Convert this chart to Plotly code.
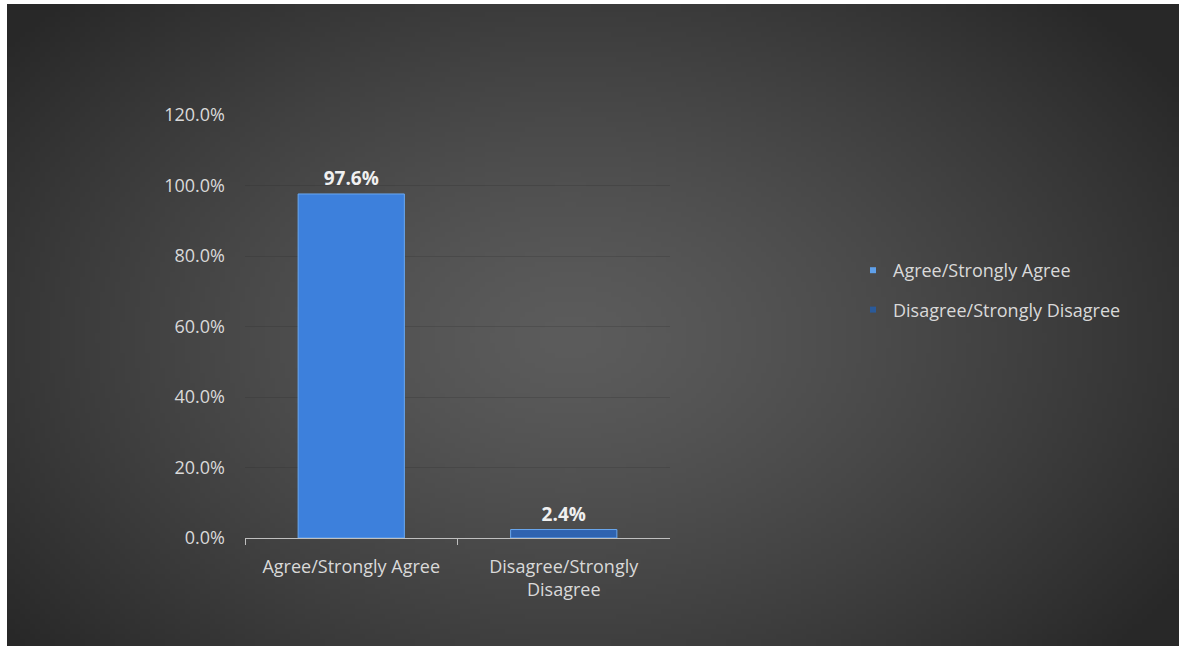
import base64
import struct
import zlib

import numpy as np
import plotly.graph_objects as go

# Survey results
categories = ["Agree/Strongly Agree", "Disagree/Strongly Disagree"]
tick_text = ["Agree/Strongly Agree", "Disagree/Strongly<br>Disagree"]
shares = [0.976, 0.024]
bar_colors = ["#3d80dc", "#2f63b0"]
legend_colors = ["#5fa0ea", "#2a5a9a"]
y_ticks = [0.0, 0.2, 0.4, 0.6, 0.8, 1.0, 1.2]

W, H = 1179, 650


def radial_gradient_png(w, h, cx, cy, inner, outer):
    """Build a small PNG with a radial gray gradient for the backdrop."""
    yy, xx = np.mgrid[0:h, 0:w]
    d = np.sqrt(((xx - cx) / (w * 0.62)) ** 2 + ((yy - cy) / (h * 0.75)) ** 2)
    d = np.clip(d, 0, 1) ** 1.3
    v = (inner + (outer - inner) * d).astype(np.uint8)
    rgb = np.stack([v, v, v], axis=-1)
    raw = b"".join(b"\x00" + rgb[r].tobytes() for r in range(h))

    def chunk(tag, data):
        c = struct.pack(">I", len(data)) + tag + data
        return c + struct.pack(">I", zlib.crc32(tag + data) & 0xFFFFFFFF)

    png = b"\x89PNG\r\n\x1a\n"
    png += chunk(b"IHDR", struct.pack(">IIBBBBB", w, h, 8, 2, 0, 0, 0))
    png += chunk(b"IDAT", zlib.compress(raw, 9))
    png += chunk(b"IEND", b"")
    return "data:image/png;base64," + base64.b64encode(png).decode()


bg = radial_gradient_png(234, 128, 112, 66, 92, 40)

FONT = "Open Sans"

fig = go.Figure()

for cat, val, col in zip(categories, shares, bar_colors):
    fig.add_trace(go.Bar(
        x=[cat], y=[val], width=0.5,
        marker=dict(color=col, line=dict(color="#6aa8f0", width=1)),
        text=[f"{val * 100:.1f}%"], textposition="outside",
        textfont=dict(family=FONT, size=19, color="#f0f0f0"),
        texttemplate="<b>%{text}</b>",
        cliponaxis=False, showlegend=False, hoverinfo="skip",
    ))

# Legend entries with small square markers
for i, (cat, col) in enumerate(zip(categories, legend_colors)):
    fig.add_trace(go.Scatter(
        x=[None], y=[None], mode="markers", name=cat,
        marker=dict(symbol="square", size=6, color=col),
        legendgroup=f"g{i}",
    ))

x0, x1 = 245 / W, 670 / W
y0, y1 = (H - 538) / H, (H - 115) / H

fig.update_layout(
    template="none",
    width=W, height=H, autosize=False,
    margin=dict(l=0, r=0, t=0, b=0, autoexpand=False),
    paper_bgcolor="white", plot_bgcolor="rgba(0,0,0,0)",
    barmode="overlay",
    font=dict(family=FONT, size=18, color="#d9d9d9"),
    images=[dict(
        source=bg, xref="paper", yref="paper",
        x=7 / W, y=1 - 4 / H, sizex=1 - 7 / W, sizey=(646 - 4) / H,
        xanchor="left", yanchor="top", sizing="stretch", layer="below",
    )],
    xaxis=dict(
        domain=[x0, x1], type="category", automargin=False,
        categoryorder="array", categoryarray=categories,
        tickvals=categories, ticktext=tick_text,
        tickson="boundaries", ticks="outside", ticklen=6,
        tickcolor="#bfbfbf", showline=True, linecolor="#bfbfbf",
        linewidth=1, showgrid=False, zeroline=False,
        ticklabelstandoff=12,
        tickfont=dict(family=FONT, size=18, color="#d9d9d9"),
        fixedrange=True,
    ),
    yaxis=dict(
        domain=[y0, y1], range=[0, 1.2], automargin=False,
        tickvals=y_ticks, tickformat=".1%",
        showgrid=True, gridcolor="rgba(40,40,40,0.22)", gridwidth=1,
        zeroline=False, showline=False, ticks="",
        ticklabelstandoff=19,
        tickfont=dict(family=FONT, size=18, color="#d9d9d9"),
        fixedrange=True,
    ),
    legend=dict(
        x=853 / W, y=(H - 252) / H, xanchor="left", yanchor="top",
        bgcolor="rgba(0,0,0,0)", tracegroupgap=13, traceorder="grouped",
        font=dict(family=FONT, size=18, color="#d9d9d9"),
        itemwidth=30,
    ),
)

fig.write_html("out.html")
